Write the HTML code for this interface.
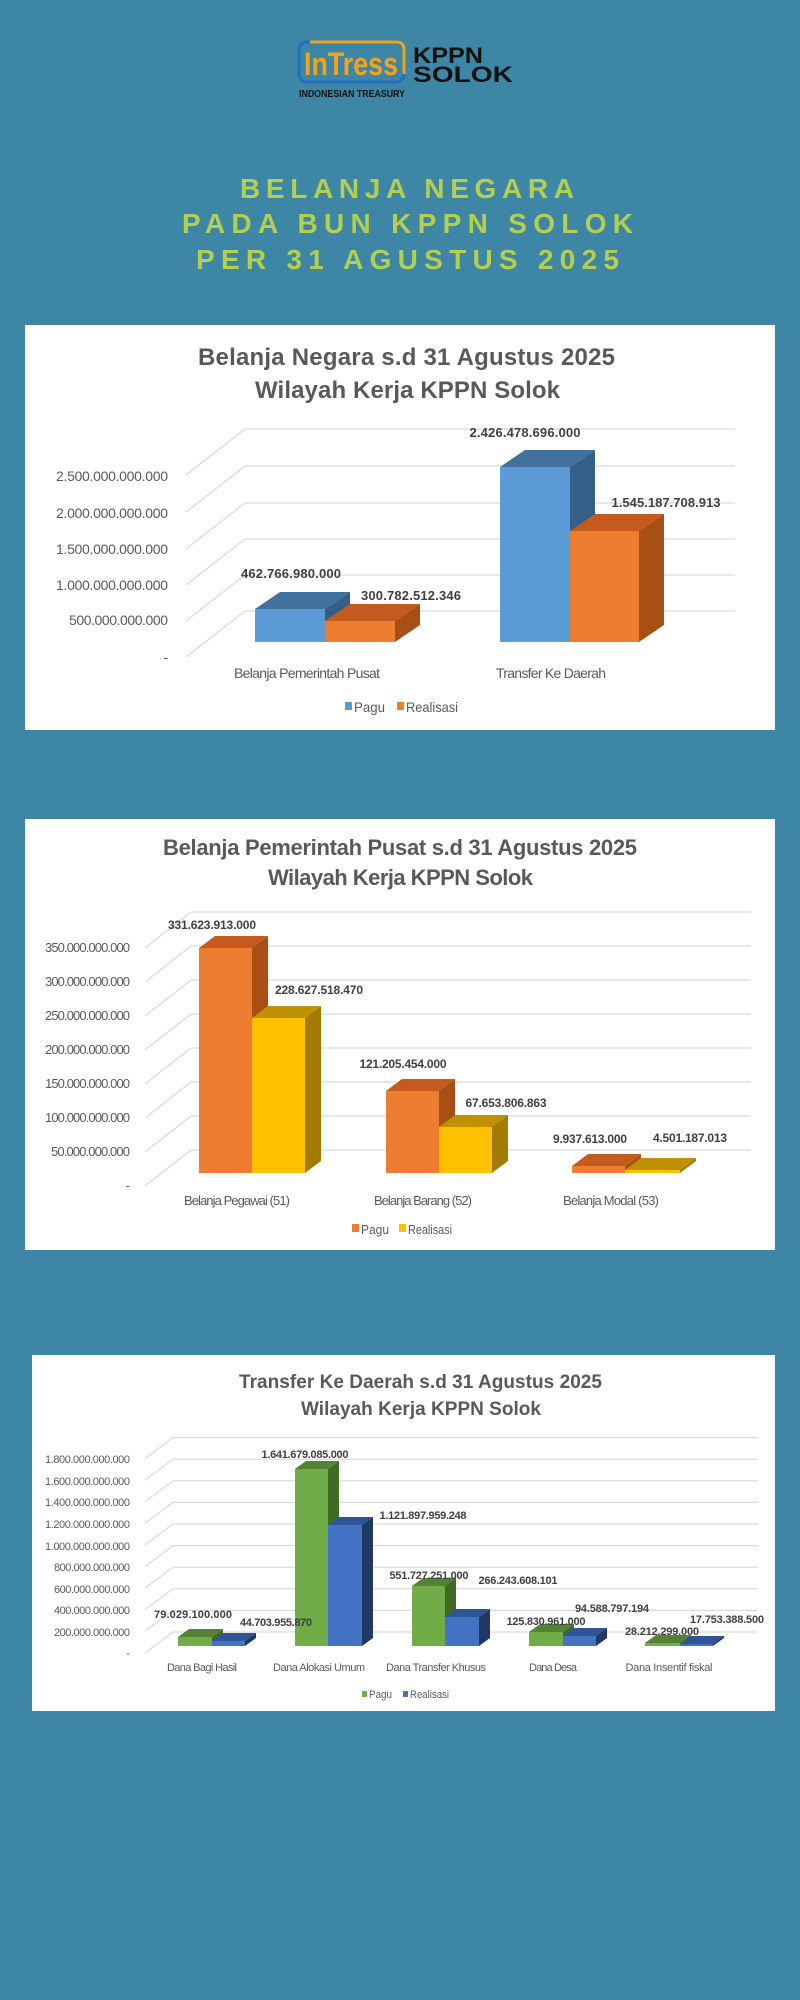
<!DOCTYPE html>
<html><head><meta charset="utf-8"><style>
html,body{margin:0;padding:0;background:#3e86a5;}
svg{display:block}
text{font-family:"Liberation Sans Narrow","Liberation Sans",sans-serif;}
</style></head><body>
<svg width="800" height="2000" viewBox="0 0 800 2000" xmlns="http://www.w3.org/2000/svg">
<rect width="800" height="2000" fill="#3e86a5"/>
<!-- Logo -->
<rect x="299" y="42" width="105" height="40" rx="8" fill="none" stroke="#1f6fc4" stroke-width="3"/>
<path d="M310 42 H396 Q404 42 404 50 V74" fill="none" stroke="#f2a21c" stroke-width="3"/>
<text x="304" y="75" font-size="32" font-weight="bold" fill="#f2a21c" textLength="94" lengthAdjust="spacingAndGlyphs">InTress</text>
<text x="413" y="63" font-size="22" font-weight="bold" fill="#111" font-family="Liberation Sans" textLength="70" lengthAdjust="spacingAndGlyphs">KPPN</text>
<text x="413" y="82" font-size="22" font-weight="bold" fill="#111" font-family="Liberation Sans" textLength="100" lengthAdjust="spacingAndGlyphs">SOLOK</text>
<text x="299" y="97" font-size="10" font-weight="bold" fill="#111" textLength="106" lengthAdjust="spacingAndGlyphs">INDONESIAN TREASURY</text>
<!-- Header title -->
<g font-size="28" font-weight="bold" fill="#b3cf4d" lengthAdjust="spacingAndGlyphs">
<text x="240" y="198" textLength="334">BELANJA NEGARA</text>
<text x="182" y="233" textLength="451">PADA BUN KPPN SOLOK</text>
<text x="196" y="269" textLength="423">PER 31 AGUSTUS 2025</text>
</g>

<!-- Panel 1 -->
<rect x="25" y="325" width="750" height="405" fill="#fff"/>
<g font-weight="bold" fill="#595959" font-size="24" lengthAdjust="spacingAndGlyphs">
<text x="198" y="365" textLength="417">Belanja Negara s.d 31 Agustus 2025</text>
<text x="255" y="398" textLength="305">Wilayah Kerja KPPN Solok</text>
</g>
<g stroke="#d9d9d9" stroke-width="1.3">
<line x1="245" y1="429" x2="735" y2="429"/><line x1="186" y1="475" x2="245" y2="429"/>
<line x1="245" y1="466" x2="735" y2="466"/><line x1="186" y1="512" x2="245" y2="466"/>
<line x1="245" y1="503" x2="735" y2="503"/><line x1="186" y1="549" x2="245" y2="503"/>
<line x1="245" y1="539" x2="735" y2="539"/><line x1="186" y1="585" x2="245" y2="539"/>
<line x1="245" y1="575" x2="735" y2="575"/><line x1="186" y1="621" x2="245" y2="575"/>
<line x1="245" y1="611" x2="735" y2="611"/><line x1="186" y1="657" x2="245" y2="611"/>
</g>
<g font-size="14" fill="#595959" text-anchor="end" lengthAdjust="spacingAndGlyphs">
<text x="168" y="481" textLength="112">2.500.000.000.000</text>
<text x="168" y="518" textLength="112">2.000.000.000.000</text>
<text x="168" y="554" textLength="112">1.500.000.000.000</text>
<text x="168" y="590" textLength="112">1.000.000.000.000</text>
<text x="168" y="625" textLength="99">500.000.000.000</text>
<text x="168" y="662">-</text>
</g>
<!-- bars 1 -->
<rect x="255" y="609" width="70" height="33" fill="#5b9bd5"/>
<polygon points="255,609 280,592 350,592 325,609" fill="#41719c"/>
<polygon points="325,609 350,592 350,625 325,642" fill="#345f88"/>
<rect x="325" y="621" width="70" height="21" fill="#ed7d31"/>
<polygon points="325,621 350,604 420,604 395,621" fill="#c55a1f"/>
<polygon points="395,621 420,604 420,625 395,642" fill="#a84f16"/>
<rect x="500" y="467" width="70" height="175" fill="#5b9bd5"/>
<polygon points="500,467 525,450 595,450 570,467" fill="#41719c"/>
<polygon points="570,467 595,450 595,625 570,642" fill="#345f88"/>
<rect x="570" y="531" width="69" height="111" fill="#ed7d31"/>
<polygon points="570,531 595,514 664,514 639,531" fill="#c55a1f"/>
<polygon points="639,531 664,514 664,625 639,642" fill="#a84f16"/>
<g font-size="13" font-weight="bold" fill="#404040" text-anchor="middle" lengthAdjust="spacingAndGlyphs">
<text x="291" y="578" textLength="100">462.766.980.000</text>
<text x="411" y="600" textLength="100">300.782.512.346</text>
<text x="525" y="437" textLength="111">2.426.478.696.000</text>
<text x="666" y="507" textLength="109">1.545.187.708.913</text>
</g>
<g font-size="14" fill="#595959" text-anchor="middle" lengthAdjust="spacingAndGlyphs">
<text x="307" y="678" textLength="146">Belanja Pemerintah Pusat</text>
<text x="551" y="678" textLength="110">Transfer Ke Daerah</text>
</g>
<rect x="345" y="702" width="7" height="8" fill="#5b9bd5"/>
<text x="354" y="712" font-size="14" fill="#595959" textLength="31" lengthAdjust="spacingAndGlyphs">Pagu</text>
<rect x="397" y="702" width="7" height="8" fill="#ed7d31"/>
<text x="406" y="712" font-size="14" fill="#595959" textLength="52" lengthAdjust="spacingAndGlyphs">Realisasi</text>

<!-- Panel 2 -->
<rect x="25" y="819" width="750" height="431" fill="#fff"/>
<g font-weight="bold" fill="#595959" font-size="22" lengthAdjust="spacingAndGlyphs">
<text x="163" y="855" textLength="474">Belanja Pemerintah Pusat s.d 31 Agustus 2025</text>
<text x="268" y="885" textLength="265">Wilayah Kerja KPPN Solok</text>
</g>
<g stroke="#d9d9d9" stroke-width="1.3">
<line x1="191" y1="912" x2="751" y2="912"/><line x1="145" y1="948" x2="191" y2="912"/>
<line x1="191" y1="946" x2="751" y2="946"/><line x1="145" y1="982" x2="191" y2="946"/>
<line x1="191" y1="980" x2="751" y2="980"/><line x1="145" y1="1016" x2="191" y2="980"/>
<line x1="191" y1="1014" x2="751" y2="1014"/><line x1="145" y1="1050" x2="191" y2="1014"/>
<line x1="191" y1="1048" x2="751" y2="1048"/><line x1="145" y1="1084" x2="191" y2="1048"/>
<line x1="191" y1="1082" x2="751" y2="1082"/><line x1="145" y1="1118" x2="191" y2="1082"/>
<line x1="191" y1="1116" x2="751" y2="1116"/><line x1="145" y1="1152" x2="191" y2="1116"/>
<line x1="191" y1="1150" x2="751" y2="1150"/><line x1="145" y1="1186" x2="191" y2="1150"/>
</g>
<g font-size="13" fill="#595959" text-anchor="end" lengthAdjust="spacingAndGlyphs">
<text x="130" y="952" textLength="85">350.000.000.000</text>
<text x="130" y="986" textLength="85">300.000.000.000</text>
<text x="130" y="1020" textLength="85">250.000.000.000</text>
<text x="130" y="1054" textLength="85">200.000.000.000</text>
<text x="130" y="1088" textLength="85">150.000.000.000</text>
<text x="130" y="1122" textLength="85">100.000.000.000</text>
<text x="130" y="1156" textLength="79">50.000.000.000</text>
<text x="130" y="1190">-</text>
</g>
<rect x="199" y="948" width="53" height="225" fill="#ed7d31"/>
<polygon points="199,948 215,936 268,936 252,948" fill="#c55a1f"/>
<polygon points="252,948 268,936 268,1161 252,1173" fill="#a84f16"/>
<rect x="252" y="1018" width="53" height="155" fill="#ffc000"/>
<polygon points="252,1018 268,1006 321,1006 305,1018" fill="#bf9000"/>
<polygon points="305,1018 321,1006 321,1161 305,1173" fill="#a37b00"/>
<rect x="386" y="1091" width="53" height="82" fill="#ed7d31"/>
<polygon points="386,1091 402,1079 455,1079 439,1091" fill="#c55a1f"/>
<polygon points="439,1091 455,1079 455,1161 439,1173" fill="#a84f16"/>
<rect x="439" y="1127" width="53" height="46" fill="#ffc000"/>
<polygon points="439,1127 455,1115 508,1115 492,1127" fill="#bf9000"/>
<polygon points="492,1127 508,1115 508,1161 492,1173" fill="#a37b00"/>
<rect x="572" y="1166" width="53" height="7" fill="#ed7d31"/>
<polygon points="572,1166 588,1154 641,1154 625,1166" fill="#c55a1f"/>
<polygon points="625,1166 641,1154 641,1161 625,1173" fill="#a84f16"/>
<rect x="625" y="1170" width="55" height="3" fill="#ffc000"/>
<polygon points="625,1170 641,1158 696,1158 680,1170" fill="#bf9000"/>
<polygon points="680,1170 696,1158 696,1161 680,1173" fill="#a37b00"/>
<g font-size="12" font-weight="bold" fill="#404040" text-anchor="middle" lengthAdjust="spacingAndGlyphs">
<text x="212" y="929" textLength="88">331.623.913.000</text>
<text x="319" y="994" textLength="88">228.627.518.470</text>
<text x="403" y="1068" textLength="87">121.205.454.000</text>
<text x="506" y="1107" textLength="81">67.653.806.863</text>
<text x="590" y="1143" textLength="74">9.937.613.000</text>
<text x="690" y="1142" textLength="74">4.501.187.013</text>
</g>
<g font-size="13" fill="#595959" text-anchor="middle" lengthAdjust="spacingAndGlyphs">
<text x="237" y="1205" textLength="106">Belanja Pegawai (51)</text>
<text x="423" y="1205" textLength="98">Belanja Barang (52)</text>
<text x="611" y="1205" textLength="96">Belanja Modal (53)</text>
</g>
<rect x="352" y="1224" width="7" height="8" fill="#ed7d31"/>
<text x="361" y="1234" font-size="13" fill="#595959" textLength="28" lengthAdjust="spacingAndGlyphs">Pagu</text>
<rect x="399" y="1224" width="7" height="8" fill="#ffc000"/>
<text x="408" y="1234" font-size="13" fill="#595959" textLength="44" lengthAdjust="spacingAndGlyphs">Realisasi</text>

<!-- Panel 3 -->
<rect x="32" y="1355" width="743" height="356" fill="#fff"/>
<g font-weight="bold" fill="#595959" font-size="19" lengthAdjust="spacingAndGlyphs">
<text x="239" y="1388" textLength="363">Transfer Ke Daerah s.d 31 Agustus 2025</text>
<text x="301" y="1415" textLength="240">Wilayah Kerja KPPN Solok</text>
</g>
<g stroke="#d9d9d9" stroke-width="1.2">
<line x1="173" y1="1437.6" x2="758" y2="1437.6"/><line x1="145" y1="1458.6" x2="173" y2="1437.6"/>
<line x1="173" y1="1459.2" x2="758" y2="1459.2"/><line x1="145" y1="1480.2" x2="173" y2="1459.2"/>
<line x1="173" y1="1480.8" x2="758" y2="1480.8"/><line x1="145" y1="1501.8" x2="173" y2="1480.8"/>
<line x1="173" y1="1502.4" x2="758" y2="1502.4"/><line x1="145" y1="1523.4" x2="173" y2="1502.4"/>
<line x1="173" y1="1524" x2="758" y2="1524"/><line x1="145" y1="1545" x2="173" y2="1524"/>
<line x1="173" y1="1545.6" x2="758" y2="1545.6"/><line x1="145" y1="1566.6" x2="173" y2="1545.6"/>
<line x1="173" y1="1567.2" x2="758" y2="1567.2"/><line x1="145" y1="1588.2" x2="173" y2="1567.2"/>
<line x1="173" y1="1588.8" x2="758" y2="1588.8"/><line x1="145" y1="1609.8" x2="173" y2="1588.8"/>
<line x1="173" y1="1610.4" x2="758" y2="1610.4"/><line x1="145" y1="1631.4" x2="173" y2="1610.4"/>
<line x1="173" y1="1632" x2="758" y2="1632"/><line x1="145" y1="1653" x2="173" y2="1632"/>
</g>
<g font-size="11" fill="#595959" text-anchor="end" lengthAdjust="spacingAndGlyphs">
<text x="130" y="1463" textLength="85">1.800.000.000.000</text>
<text x="130" y="1485" textLength="85">1.600.000.000.000</text>
<text x="130" y="1506" textLength="85">1.400.000.000.000</text>
<text x="130" y="1528" textLength="85">1.200.000.000.000</text>
<text x="130" y="1550" textLength="85">1.000.000.000.000</text>
<text x="130" y="1571" textLength="76">800.000.000.000</text>
<text x="130" y="1593" textLength="76">600.000.000.000</text>
<text x="130" y="1614" textLength="76">400.000.000.000</text>
<text x="130" y="1636" textLength="76">200.000.000.000</text>
<text x="130" y="1657">-</text>
</g>
<rect x="178" y="1637" width="34" height="9" fill="#70ad47"/>
<polygon points="178,1637 189,1629 223,1629 212,1637" fill="#548235"/>
<polygon points="212,1637 223,1629 223,1638 212,1646" fill="#3f6b25"/>
<rect x="212" y="1641" width="33" height="5" fill="#4472c4"/>
<polygon points="212,1641 223,1633 256,1633 245,1641" fill="#2f5597"/>
<polygon points="245,1641 256,1633 256,1638 245,1646" fill="#203864"/>
<rect x="295" y="1469" width="33" height="177" fill="#70ad47"/>
<polygon points="295,1469 306,1461 339,1461 328,1469" fill="#548235"/>
<polygon points="328,1469 339,1461 339,1638 328,1646" fill="#3f6b25"/>
<rect x="328" y="1525" width="34" height="121" fill="#4472c4"/>
<polygon points="328,1525 339,1517 373,1517 362,1525" fill="#2f5597"/>
<polygon points="362,1525 373,1517 373,1638 362,1646" fill="#203864"/>
<rect x="412" y="1586" width="33" height="60" fill="#70ad47"/>
<polygon points="412,1586 423,1578 456,1578 445,1586" fill="#548235"/>
<polygon points="445,1586 456,1578 456,1638 445,1646" fill="#3f6b25"/>
<rect x="445" y="1617" width="34" height="29" fill="#4472c4"/>
<polygon points="445,1617 456,1609 490,1609 479,1617" fill="#2f5597"/>
<polygon points="479,1617 490,1609 490,1638 479,1646" fill="#203864"/>
<rect x="529" y="1632" width="34" height="14" fill="#70ad47"/>
<polygon points="529,1632 540,1624 574,1624 563,1632" fill="#548235"/>
<polygon points="563,1632 574,1624 574,1638 563,1646" fill="#3f6b25"/>
<rect x="563" y="1636" width="33" height="10" fill="#4472c4"/>
<polygon points="563,1636 574,1628 607,1628 596,1636" fill="#2f5597"/>
<polygon points="596,1636 607,1628 607,1638 596,1646" fill="#203864"/>
<rect x="645" y="1643" width="35" height="3" fill="#70ad47"/>
<polygon points="645,1643 656,1635 691,1635 680,1643" fill="#548235"/>
<polygon points="680,1643 691,1635 691,1638 680,1646" fill="#3f6b25"/>
<rect x="680" y="1644" width="33" height="2" fill="#4472c4"/>
<polygon points="680,1644 691,1636 724,1636 713,1644" fill="#2f5597"/>
<polygon points="713,1644 724,1636 724,1638 713,1646" fill="#203864"/>
<g font-size="11" font-weight="bold" fill="#404040" text-anchor="middle" lengthAdjust="spacingAndGlyphs">
<text x="193" y="1618" textLength="78">79.029.100.000</text>
<text x="276" y="1626" textLength="72">44.703.955.870</text>
<text x="305" y="1458" textLength="87">1.641.679.085.000</text>
<text x="423" y="1519" textLength="87">1.121.897.959.248</text>
<text x="429" y="1579" textLength="79">551.727.251.000</text>
<text x="518" y="1584" textLength="79">266.243.608.101</text>
<text x="546" y="1625" textLength="79">125.830.961.000</text>
<text x="612" y="1612" textLength="74">94.588.797.194</text>
<text x="662" y="1635" textLength="74">28.212.299.000</text>
<text x="727" y="1623" textLength="74">17.753.388.500</text>
</g>
<g font-size="11" fill="#595959" text-anchor="middle" lengthAdjust="spacingAndGlyphs">
<text x="202" y="1671" textLength="70">Dana Bagi Hasil</text>
<text x="319" y="1671" textLength="92">Dana Alokasi Umum</text>
<text x="436" y="1671" textLength="100">Dana Transfer Khusus</text>
<text x="553" y="1671" textLength="48">Dana Desa</text>
<text x="669" y="1671" textLength="87">Dana Insentif fiskal</text>
</g>
<rect x="362" y="1691" width="5" height="6" fill="#70ad47"/>
<text x="369" y="1698" font-size="11" fill="#595959" textLength="23" lengthAdjust="spacingAndGlyphs">Pagu</text>
<rect x="403" y="1691" width="5" height="6" fill="#4472c4"/>
<text x="410" y="1698" font-size="11" fill="#595959" textLength="39" lengthAdjust="spacingAndGlyphs">Realisasi</text>
</svg>
</body></html>
